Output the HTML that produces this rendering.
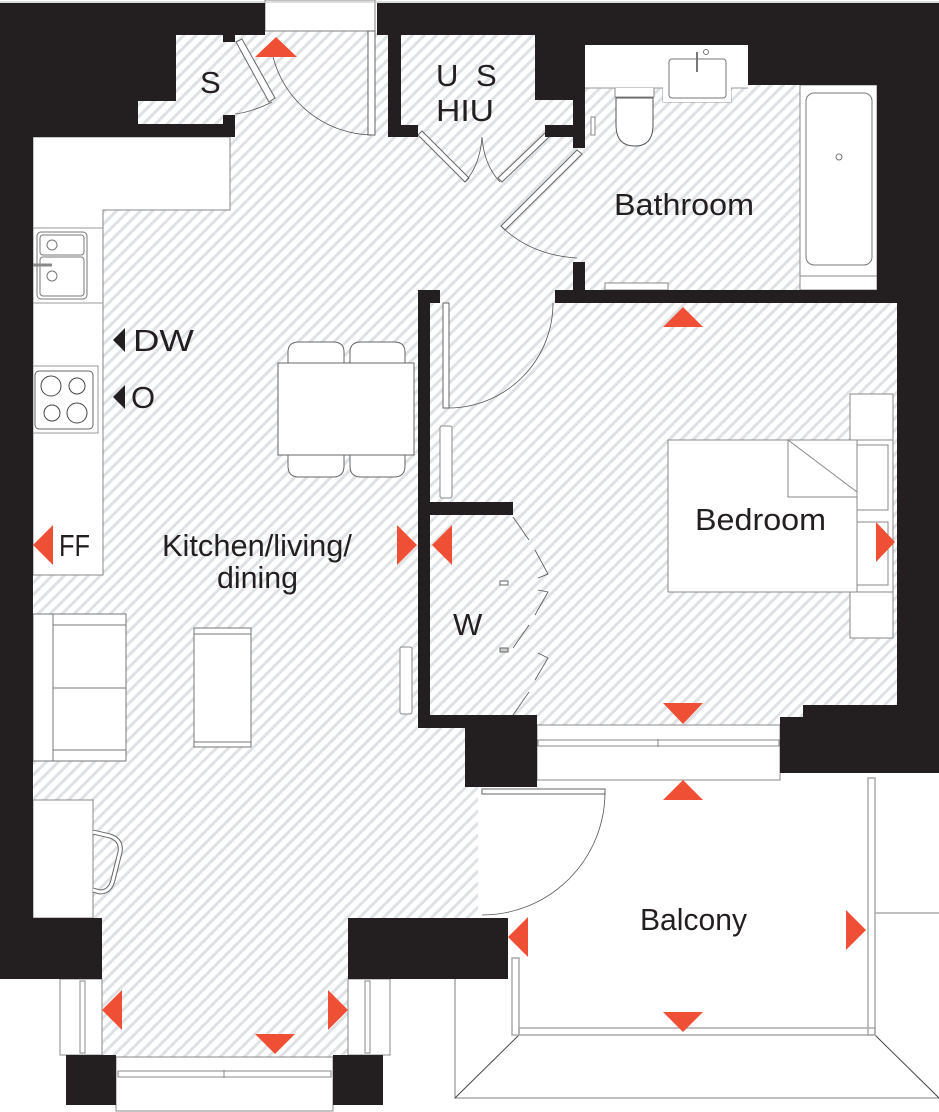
<!DOCTYPE html>
<html><head><meta charset="utf-8"><style>
html,body{margin:0;padding:0;background:#fff;}
svg{display:block;}
text{font-family:"Liberation Sans",sans-serif;fill:#231f20;}
</style></head><body>
<svg width="939" height="1112" viewBox="0 0 939 1112" xmlns="http://www.w3.org/2000/svg">
<defs>
<pattern id="h" patternUnits="userSpaceOnUse" width="8.5" height="8.5" patternTransform="rotate(45)">
<rect width="8.5" height="8.5" fill="#fff"/>
<line x1="2" y1="0" x2="2" y2="8.5" stroke="#dfe2e5" stroke-width="3"/>
</pattern>
</defs>
<rect width="939" height="1112" fill="#fff"/>
<!-- hatched interior -->
<rect x="33" y="31" width="864" height="887" fill="url(#h)"/>
<rect x="102" y="918" width="246" height="139" fill="url(#h)"/>
<!-- balcony white -->
<rect x="478" y="773" width="461" height="339" fill="#fff"/>
<rect x="897" y="0" width="42" height="1112" fill="#fff"/>
<rect x="263" y="0" width="114" height="31" fill="#fff"/>
<g fill="none" stroke="#808080" stroke-width="1">
<rect x="265" y="0" width="110" height="31"/>
</g>

<!-- kitchen counter -->
<path d="M33,137 H230 V210 H103 V575 H33 Z" fill="#fff" stroke="#888" stroke-width="1"/>
<line x1="33" y1="228" x2="103" y2="228" stroke="#999"/>
<line x1="33" y1="303" x2="103" y2="303" stroke="#999"/>
<rect x="37" y="232" width="50" height="67" rx="4" fill="#fff" stroke="#777"/>
<rect x="40" y="235" width="44" height="20" rx="3" fill="none" stroke="#777"/>
<rect x="40" y="257" width="44" height="39" rx="3" fill="none" stroke="#777"/>
<circle cx="52" cy="245" r="5" fill="none" stroke="#777"/>
<circle cx="52" cy="276" r="5" fill="none" stroke="#777"/>
<line x1="32" y1="265" x2="52" y2="265" stroke="#888" stroke-width="3"/>
<rect x="33" y="366" width="65" height="67" fill="#fff" stroke="#999"/>
<rect x="35" y="371" width="58" height="58" rx="4" fill="none" stroke="#666"/>
<circle cx="51" cy="386" r="10" fill="none" stroke="#444"/>
<circle cx="77" cy="386" r="8" fill="none" stroke="#444"/>
<circle cx="52" cy="413" r="8" fill="none" stroke="#444"/>
<circle cx="77" cy="413" r="10" fill="none" stroke="#444"/>

<!-- table & chairs -->
<g fill="#fff" stroke="#666">
<path d="M288,363 V352 Q288,342 299,342 H333 Q344,342 344,352 V363 Z"/>
<path d="M350,363 V352 Q350,342 361,342 H394 Q405,342 405,352 V363 Z"/>
<path d="M288,455 V466 Q288,477 299,477 H333 Q344,477 344,466 V455 Z"/>
<path d="M350,455 V466 Q350,477 361,477 H394 Q405,477 405,466 V455 Z"/>
<rect x="278" y="363" width="136" height="92"/>
</g>
<!-- sofa -->
<g fill="#fff" stroke="#777">
<rect x="33" y="614" width="93" height="147"/>
<line x1="53" y1="614" x2="53" y2="761"/>
<line x1="53" y1="625" x2="126" y2="625"/>
<line x1="53" y1="688" x2="126" y2="688"/>
<line x1="53" y1="750" x2="126" y2="750"/>
<rect x="194" y="628" width="57" height="119"/>
<line x1="194" y1="634" x2="251" y2="634"/>
<line x1="194" y1="742" x2="251" y2="742"/>
</g>
<!-- desk -->
<rect x="33" y="800" width="60" height="118" fill="#fff" stroke="#888"/>
<path d="M93,832 L110,836 Q122,840 120,852 L113,880 Q110,892 100,892 L93,890" fill="none" stroke="#666" stroke-width="5"/>
<path d="M93,832 L110,836 Q122,840 120,852 L113,880 Q110,892 100,892 L93,890" fill="none" stroke="#fff" stroke-width="3"/>

<!-- bathroom fixtures -->
<rect x="585" y="45" width="163" height="43" fill="#fff"/>
<path d="M585,88 H663 V102 H731 V88 H748" fill="#fff" stroke="#999"/>
<rect x="663" y="58" width="68" height="44" fill="#fff"/>
<rect x="669" y="59" width="57" height="39" rx="3" fill="#fff" stroke="#777"/>
<line x1="697" y1="52" x2="697" y2="72" stroke="#777" stroke-width="2"/>
<circle cx="706" cy="52" r="2.5" fill="none" stroke="#777"/>
<path d="M615,88 V97 H654 V88" fill="#fff" stroke="#888"/>
<path d="M616,98 H653 V125 Q653,146 635,146 Q616,146 616,125 Z" fill="#fff" stroke="#555"/>
<rect x="800" y="85" width="77" height="205" fill="#fff" stroke="#888"/>
<rect x="806" y="93" width="66" height="172" rx="8" fill="none" stroke="#777"/>
<line x1="800" y1="276" x2="877" y2="276" stroke="#888"/>
<circle cx="839" cy="157" r="3" fill="none" stroke="#777"/>
<rect x="605" y="283" width="63" height="7" fill="#fff" stroke="#888"/>
<rect x="591" y="117" width="4" height="18" fill="#fff" stroke="#888"/>

<!-- bedroom furniture -->
<g fill="#fff" stroke="#888">
<rect x="850" y="394" width="43" height="46"/>
<rect x="850" y="592" width="43" height="46"/>
<rect x="668" y="440" width="225" height="152"/>
<rect x="853" y="445" width="35" height="65"/>
<rect x="853" y="522" width="35" height="63"/>
<rect x="668" y="440" width="189" height="152"/>
<path d="M788,440 L857,492 V497 H788 Z"/>
</g>
<!-- radiators -->
<rect x="440" y="426" width="12" height="72" rx="2" fill="#fff" stroke="#888"/>
<rect x="400" y="647" width="12" height="67" rx="2" fill="#fff" stroke="#888"/>

<!-- balcony outlines -->
<g fill="none" stroke="#aaa" stroke-width="1.5">
<path d="M455,979 V1098 H939"/>
<path d="M875,913 H939"/>
<line x1="519" y1="1035" x2="455" y2="1098" stroke="#444" stroke-width="1"/>
<line x1="875" y1="1035" x2="939" y2="1098" stroke="#444" stroke-width="1"/>
<rect x="519" y="1028" width="356" height="7"/>
<rect x="868" y="778" width="7" height="257"/>
<rect x="512" y="958" width="7" height="77"/>
</g>

<!-- windows -->
<g fill="#fff" stroke="#888">
<rect x="116" y="1057" width="217" height="54"/>
<rect x="118" y="1071" width="213" height="6"/>
<line x1="224" y1="1070" x2="224" y2="1078"/>
<rect x="537" y="725" width="243" height="55"/>
<rect x="538" y="740" width="241" height="6"/>
<line x1="658" y1="739" x2="658" y2="747"/>
<rect x="60" y="979" width="42" height="76"/>
<rect x="80" y="981" width="5" height="72"/>
<rect x="348" y="979" width="42" height="76"/>
<rect x="365" y="981" width="5" height="72"/>
</g>

<!-- doors -->
<g fill="#fff" stroke="#666">
<rect x="368" y="31" width="7" height="104"/>
<polygon points="236,42 242,39 275,98 269,102"/>
<polygon points="418,135 422,131 469,178 465,182"/>
<polygon points="545,133 549,137 502,182 498,178"/>
<polygon points="577,150 582,154 505,230 501,226"/>
<rect x="443" y="303" width="6" height="105"/>
<rect x="482" y="789" width="123" height="5"/>
</g>
<g fill="none" stroke="#555" stroke-width="0.8">
<path d="M372,135 A104,104 0 0 1 273,57"/>
<path d="M272,102 Q252,112 235,114"/>
<path d="M465,182 Q480,165 482,137 Q484,165 500,182"/>
<path d="M501,226 Q530,255 577,258"/>
<path d="M449,408 A105,105 0 0 0 553,303"/>
<path d="M605,792 A123,123 0 0 1 482,915"/>
<polyline points="513,517 529,540"/>
<polyline points="535,550 548,574 538,578"/>
<polyline points="538,590 548,592 535,615"/>
<polyline points="529,625 513,648"/>
<polyline points="538,653 548,658 535,680"/>
<polyline points="529,692 513,715"/>
</g>
<rect x="500" y="581" width="8" height="4" fill="#fff" stroke="#666"/>
<rect x="500" y="648" width="8" height="4" fill="#ccc" stroke="#666"/>

<!-- walls -->
<g fill="#231f20">
<rect x="0" y="3" width="265" height="32"/>
<rect x="0" y="3" width="33" height="915"/>
<rect x="33" y="35" width="143" height="66"/>
<rect x="33" y="101" width="105" height="24"/>
<rect x="0" y="124" width="235" height="13"/>
<rect x="223" y="35" width="12" height="7"/>
<rect x="223" y="115" width="12" height="22"/>
<rect x="377" y="3" width="562" height="32"/>
<rect x="388" y="35" width="13" height="102"/>
<rect x="388" y="125" width="30" height="12"/>
<rect x="535" y="35" width="50" height="65"/>
<rect x="573" y="35" width="12" height="113"/>
<rect x="545" y="125" width="30" height="12"/>
<rect x="585" y="35" width="354" height="10"/>
<rect x="748" y="35" width="191" height="50"/>
<rect x="877" y="35" width="62" height="268"/>
<rect x="897" y="290" width="42" height="427"/>
<rect x="555" y="290" width="384" height="13"/>
<rect x="573" y="262" width="12" height="40"/>
<rect x="418" y="290" width="22" height="13"/>
<rect x="418" y="290" width="12" height="438"/>
<rect x="430" y="502" width="83" height="13"/>
<rect x="418" y="715" width="94" height="13"/>
<rect x="465" y="715" width="72" height="72"/>
<rect x="780" y="717" width="159" height="56"/>
<rect x="803" y="705" width="136" height="14"/>
<rect x="0" y="918" width="102" height="61"/>
<rect x="348" y="918" width="160" height="61"/>
<rect x="66" y="1055" width="50" height="50"/>
<rect x="333" y="1055" width="50" height="50"/>
</g>
<line x1="0" y1="2" x2="939" y2="2" stroke="#bbb" stroke-width="1"/>

<!-- arrows -->
<g fill="#ef5035">
<polygon points="276,37 255,57 297,57"/>
<polygon points="683,307 663,327 703,327"/>
<polygon points="683,724 663,703 703,703"/>
<polygon points="683,780 663,800 703,800"/>
<polygon points="683,1032 663,1012 703,1012"/>
<polygon points="508,937 528,917 528,957"/>
<polygon points="866,930 846,910 846,950"/>
<polygon points="417,545 397,525 397,565"/>
<polygon points="432,545 452,525 452,565"/>
<polygon points="895,542 876,522 876,562"/>
<polygon points="33,545 53,525 53,565"/>
<polygon points="102,1010 122,990 122,1030"/>
<polygon points="348,1010 328,990 328,1030"/>
<polygon points="275,1054 255,1034 295,1034"/>
</g>
<g fill="#231f20">
<polygon points="113,340 125,328 125,352"/>
<polygon points="113,397 125,385 125,409"/>
</g>

<!-- labels -->
<g font-size="31">
<text x="200" y="93">S</text>
<text x="436" y="86">U</text><text x="476" y="86">S</text>
<text x="436" y="121" textLength="58" lengthAdjust="spacingAndGlyphs">HIU</text>
<text x="614" y="215" textLength="140" lengthAdjust="spacingAndGlyphs">Bathroom</text>
<text x="695" y="530" textLength="131" lengthAdjust="spacingAndGlyphs">Bedroom</text>
<text x="162" y="556" textLength="190" lengthAdjust="spacingAndGlyphs">Kitchen/living/</text>
<text x="217" y="588" textLength="81" lengthAdjust="spacingAndGlyphs">dining</text>
<text x="453" y="635">W</text>
<text x="640" y="930" textLength="107" lengthAdjust="spacingAndGlyphs">Balcony</text>
<text x="133" y="351" textLength="61" lengthAdjust="spacingAndGlyphs">DW</text>
<text x="131" y="408">O</text>
<text x="59" y="556" textLength="31" lengthAdjust="spacingAndGlyphs">FF</text>
</g>
</svg>
</body></html>
